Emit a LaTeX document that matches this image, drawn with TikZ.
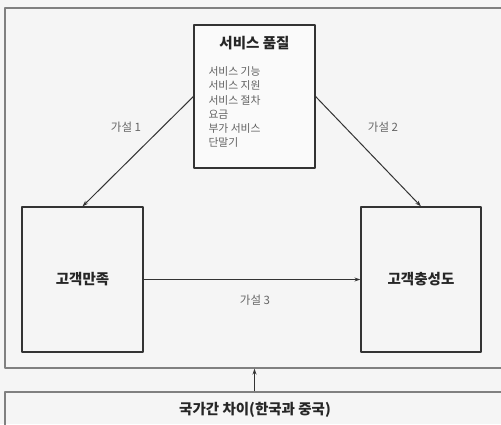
\documentclass[tikz,border=0pt]{standalone}
\usepackage{fontspec}
\setmainfont{Noto Sans CJK KR}
\usetikzlibrary{arrows.meta}
\begin{document}
\begin{tikzpicture}[x=1pt,y=-1pt,line join=round,>={Stealth[length=6pt,width=4pt]},line width=1pt]
	\tikzset{box style/.style={draw=black!80,line width=1.2pt,inner sep=0pt},
		frame style/.style={draw=black!50,line width=1.1pt,inner sep=0pt},
		hyp style/.style={font=\fontsize{11.5}{13}\selectfont,text=black!60},
		head style/.style={font=\fontsize{14.5}{16}\selectfont\bfseries,text=black!85}}
	\useasboundingbox[fill=black!4] (0,0) rectangle (501,424);
	% outer frame and country box
	\node[frame style,minimum width=515pt,minimum height=360pt] (frame) at (262.5,188) {};
	\node[frame style,minimum width=515pt,minimum height=48pt] (cbox) at (262.5,416) {};
	\node[head style] (ctext) at (255,410) {국가간 차이(한국과 중국)};
	% boxes
	\node[box style,fill=black!2,minimum width=121pt,minimum height=143pt] (qual) at (254.5,96.5) {};
	\node[head style] (qtitle) at (254.5,43) {서비스 품질};
	\node[anchor=north west,inner sep=0pt,align=left,text=black!62,
		font=\fontsize{10.8}{14.3}\selectfont] (qlist) at (208,66)
		{서비스 기능\\서비스 지원\\서비스 절차\\요금\\부가 서비스\\단말기};
	\node[box style,minimum width=121pt,minimum height=145pt,head style] (sat) at (82.5,279.5) {고객만족};
	\node[box style,minimum width=120pt,minimum height=145pt,head style] (loy) at (421,279.5) {고객충성도};
	% hypotheses
	\draw[->,black!80] (qual.west) -- (sat.north);
	\draw[->,black!80] (qual.east) -- (loy.north);
	\draw[->,black!80] (sat.east) -- (loy.west);
	\node[hyp style] (h1) at (126,127) {가설 1};
	\node[hyp style] (h2) at (383,127) {가설 2};
	\node[hyp style] (h3) at (255,300) {가설 3};
	\draw[->,black!80] (cbox.north -| qual.south) -- (frame.south -| qual.south);
\end{tikzpicture}
\end{document}
